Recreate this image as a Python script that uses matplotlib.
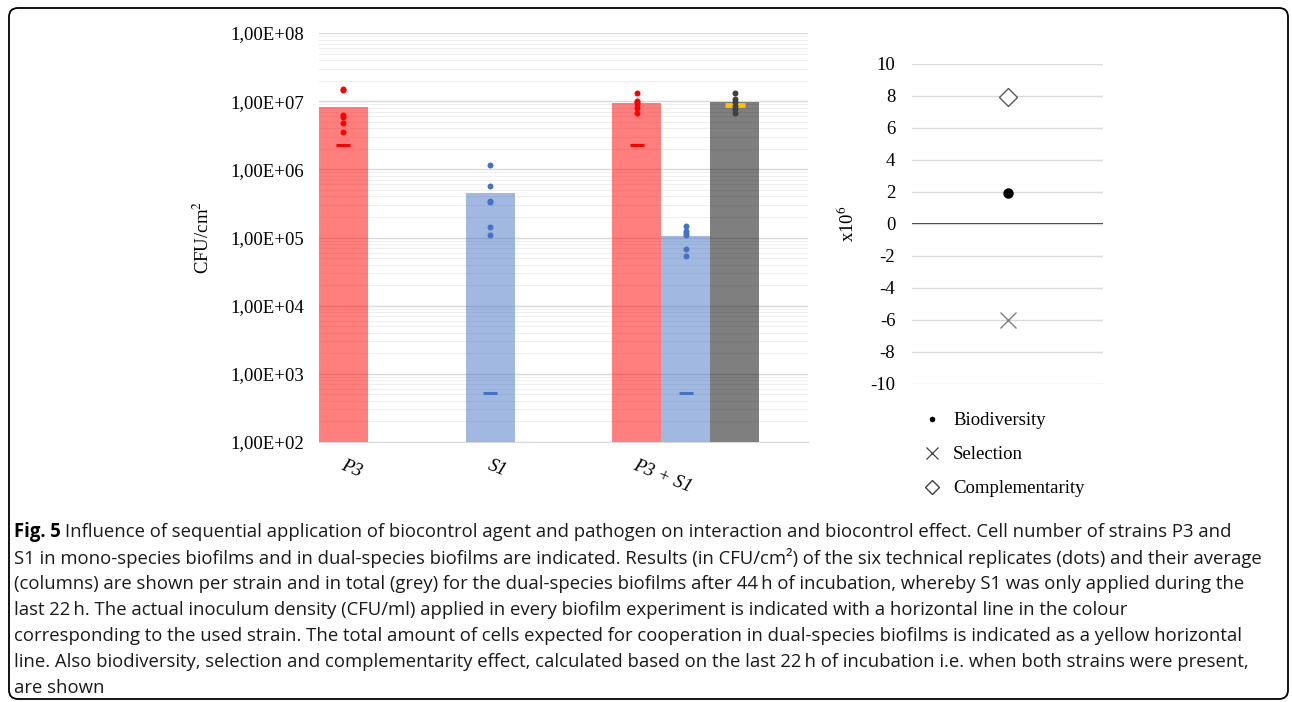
import matplotlib
matplotlib.use('Agg')
import matplotlib.pyplot as plt
import numpy as np
from matplotlib.lines import Line2D
from matplotlib.patches import FancyBboxPatch
from matplotlib.transforms import IdentityTransform
from matplotlib.ticker import FixedLocator, FuncFormatter, LogLocator, NullFormatter

# --- data ---
categories = ['P3', 'S1', 'P3 + S1']
bar_colors = ['#FF0000', '#4472C4', '#FF0000', '#4472C4', '#000000']
dot_colors = ['#FF0000', '#4472C4', '#FF0000', '#4472C4', '#404040']
bar_means = [8.3e6, 4.5e5, 9.5e6, 1.04e5, 9.7e6]
replicates = [
    [1.50e7, 1.45e7, 6.3e6, 5.8e6, 4.8e6, 3.5e6],
    [1.17e6, 5.6e5, 3.4e5, 3.3e5, 1.44e5, 1.07e5],
    [1.32e7, 1.02e7, 9.6e6, 9.0e6, 8.0e6, 6.6e6],
    [1.48e5, 1.24e5, 1.15e5, 1.10e5, 6.8e4, 5.3e4],
    [1.32e7, 1.06e7, 9.8e6, 8.5e6, 7.6e6, 6.6e6],
]
inoculum = [2.3e6, 5.2e2, 2.3e6, 5.2e2, None]
expected_total = 8.9e6

effect_names = ['Biodiversity', 'Selection', 'Complementarity']
effect_values = [1.95, -6.0, 7.95]

caption_lines = [
    'Influence of sequential application of biocontrol agent and pathogen on interaction and biocontrol effect. Cell number of strains P3 and',
    'S1 in mono-species biofilms and in dual-species biofilms are indicated. Results (in CFU/cm\u00b2) of the six technical replicates (dots) and their average',
    '(columns) are shown per strain and in total (grey) for the dual-species biofilms after 44\u2009h of incubation, whereby S1 was only applied during the',
    'last 22\u2009h. The actual inoculum density (CFU/ml) applied in every biofilm experiment is indicated with a horizontal line in the colour',
    'corresponding to the used strain. The total amount of cells expected for cooperation in dual-species biofilms is indicated as a yellow horizontal',
    'line. Also biodiversity, selection and complementarity effect, calculated based on the last 22\u2009h of incubation i.e. when both strains were present,',
    'are shown',
]

plt.rcParams['axes.unicode_minus'] = False
plt.rcParams['mathtext.fontset'] = 'stix'
serif = 'Liberation Serif'
fs = 13.5

W, H = 1292, 702
fig = plt.figure(figsize=(W / 100, H / 100), dpi=100)

# left panel: log bar chart
ax = fig.add_axes([319 / W, 1 - 442 / H, 489 / W, 409 / H])
bar_x = [0.5, 3.5, 6.5, 7.5, 8.5]
ax.bar(bar_x, bar_means, width=1.0, color=bar_colors, alpha=0.5, zorder=2)
for x, vals, c in zip(bar_x, replicates, dot_colors):
    ax.plot([x] * len(vals), vals, 'o', color=c, ms=4.3, mew=0, zorder=4)
for x, v, c in zip(bar_x, inoculum, dot_colors):
    if v is not None:
        ax.plot([x], [v], marker='_', color=c, ms=9.5, mew=2.2, zorder=4)
ax.plot([bar_x[-1]], [expected_total], marker='_', color='#FFC000', ms=14, mew=3.5, zorder=3)

ax.set_yscale('log')
ax.set_ylim(1e2, 1e8)
ax.set_xlim(0, 10)
ax.yaxis.set_major_locator(FixedLocator([10.0 ** k for k in range(2, 9)]))
ax.yaxis.set_minor_locator(LogLocator(base=10, subs=np.arange(2, 10)))
ax.yaxis.set_minor_formatter(NullFormatter())
ax.yaxis.set_major_formatter(FuncFormatter(lambda v, p: '1,00E+%02d' % round(np.log10(v))))
ax.grid(which='major', axis='y', color='#D9D9D9', lw=1.0, zorder=0)
ax.grid(which='minor', axis='y', color='#EFEFEF', lw=0.8, zorder=0)
ax.set_axisbelow(True)
for s in ['top', 'right', 'left']:
    ax.spines[s].set_visible(False)
ax.spines['bottom'].set_color('#D9D9D9')
ax.tick_params(which='both', length=0)
ax.tick_params(axis='y', pad=11, labelsize=fs)
for lab in ax.get_yticklabels():
    lab.set_family(serif)
ax.set_xticks([0.67, 3.64, 7.03])
ax.set_xticklabels(categories, rotation=-22, fontsize=fs, family=serif, style='italic',
                   ha='center', rotation_mode='default')
ax.tick_params(axis='x', pad=11)
ax.set_ylabel('CFU/cm$^{2}$', family=serif, fontsize=fs)
ax.yaxis.set_label_coords(-0.217, 0.5)

# right panel: effects
ax2 = fig.add_axes([912 / W, 1 - 384 / H, 191 / W, 320 / H])
ax2.set_xlim(0, 2)
ax2.set_ylim(-10, 10)
ax2.set_yticks(np.arange(-10, 11, 2))
ax2.grid(axis='y', color='#D9D9D9', lw=1.0, zorder=0)
ax2.axhline(0, color='black', lw=1.2, zorder=1)
for s in ax2.spines.values():
    s.set_visible(False)
ax2.set_xticks([])
ax2.tick_params(length=0, pad=12, labelsize=fs)
for lab in ax2.get_yticklabels():
    lab.set_family(serif)
ax2.set_ylabel('x10$^{6}$', family=serif, fontsize=fs)
ax2.yaxis.set_label_coords(-0.283, 0.5)

styles = [
    dict(marker='o', color='black', ms=7.5, mew=0),
    dict(marker='x', color='#7F7F7F', ms=12, mew=1.0),
    dict(marker='D', mfc='white', mec='#595959', ms=9, mew=1.0),
]
for v, st in zip(effect_values, styles):
    ax2.plot([1], [v], ls='', zorder=3, **st)

handles = [
    Line2D([], [], ls='', marker='o', color='black', ms=4, mew=0),
    Line2D([], [], ls='', marker='x', color='#404040', ms=8, mew=0.9),
    Line2D([], [], ls='', marker='D', mfc='white', mec='#404040', ms=7, mew=1.0),
]
fig.legend(handles, effect_names, loc='upper left', bbox_to_anchor=(923 / W, 1 - 412 / H),
           frameon=False, prop={'family': serif, 'size': fs}, handlelength=1.0,
           handletextpad=0.6, labelspacing=0.9, borderpad=0, borderaxespad=0)

# caption
cap_font = 'Open Sans'
cap_fs = 13.35
renderer = fig.canvas.get_renderer()
y0 = 532
for i, line in enumerate(caption_lines):
    y = 1 - (y0 + 26 * i) / H
    x = 14 / W
    if i == 0:
        t = fig.text(x, y, 'Fig. 5', family=cap_font, fontsize=cap_fs, weight='bold', va='center')
        bb = t.get_window_extent(renderer=renderer)
        x = (bb.x1 + 4) / W
    fig.text(x, y, line, family=cap_font, fontsize=cap_fs, va='center', color='#1A1A1A')

# rounded frame
frame = FancyBboxPatch((9, 3), 1279, 691, boxstyle='round,pad=0,rounding_size=9',
                       transform=IdentityTransform(), fill=False, ec='black', lw=1.3)
fig.patches.append(frame)

fig.savefig('out.png', dpi=100)
